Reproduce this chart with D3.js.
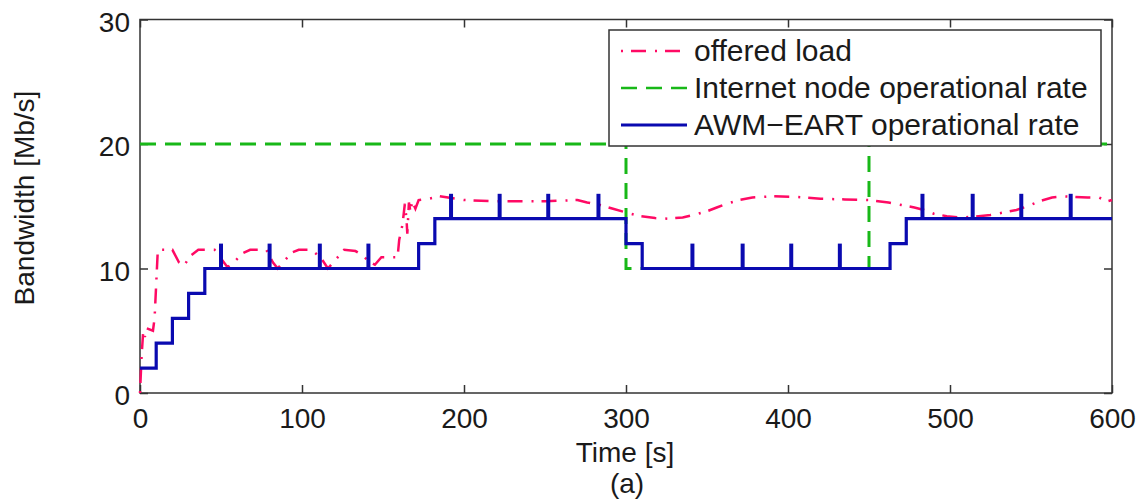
<!DOCTYPE html>
<html>
<head>
<meta charset="utf-8">
<script src="https://cdn.jsdelivr.net/npm/d3@7.9.0/dist/d3.min.js"></script>
<style>
  body { margin: 0; background: #fff; }
  svg text { font-family: "Liberation Sans", Arial, sans-serif; fill: #1a1a1a; }
</style>
</head>
<body>
<svg id="chart" width="1137" height="504"></svg>
<script>
// offered load [time s, Mb/s]
const loadTimes = [0, 1, 2, 3, 4, 8, 9, 11, 20, 24, 27, 31, 36, 46, 50, 54, 58, 63, 68, 78, 82, 85, 89, 94, 98,
  106, 112, 116, 120, 126, 133, 137, 141, 145, 149, 159, 160, 162, 163.5, 164.5, 165, 166, 167, 168, 170, 172,
  178, 185, 200, 220, 250, 270, 276, 284, 292, 300, 309, 318, 326, 335, 343, 350, 356, 362, 370, 378, 390,
  405, 420, 435, 450, 462, 470, 478, 484, 490, 498, 506, 515, 525, 533, 541, 548, 555, 563, 570, 585, 592, 597, 600];
const loadValues = [0, 3, 5, 4.5, 5.2, 5, 6, 11.5, 11.5, 10.5, 10.2, 11, 11.5, 11.5, 10.8, 10.1, 10.5, 11.2, 11.5, 11.5, 10.5, 10, 10.6, 11.3, 11.5,
  11.5, 10.8, 10, 10.6, 11.5, 11.4, 11.1, 10.6, 10.3, 10.9, 10.9, 12.3, 13.5, 15.2, 14, 12.8, 15.3, 14.5, 15.4, 14.8, 15.5,
  15.6, 15.8, 15.5, 15.4, 15.4, 15.5, 15.3, 15.1, 14.8, 14.5, 14.2, 14.05, 14.0, 14.1, 14.35, 14.6, 14.9, 15.2, 15.5, 15.7, 15.8,
  15.75, 15.6, 15.55, 15.5, 15.3, 15.1, 14.9, 14.7, 14.4, 14.2, 14.1, 14.15, 14.3, 14.5, 14.7, 15.0, 15.4, 15.7, 15.8, 15.7, 15.7, 15.4, 15.5];

// internet node operational rate (step after)
const inetTimes = [0, 300, 450, 600];
const inetRates = [20, 10, 20, 20];

// AWM-EART operational rate (step after)
const awmTimes = [0, 10, 20, 30, 40, 172, 182, 300, 310, 463, 473, 600];
const awmRates = [2, 4, 6, 8, 10, 12, 14, 12, 10, 12, 14, 14];

// short probing spikes on the AWM-EART rate
const spikeTimes = [50, 80, 111, 141, 192, 222, 252, 283, 341, 372, 402, 432, 483, 514, 544, 574.5];
const spikeBase = [10, 10, 10, 10, 14, 14, 14, 14, 10, 10, 10, 10, 14, 14, 14, 14];
const spikeTop = [12, 12, 12, 12, 16, 16, 16, 16, 12, 12, 12, 12, 16, 16, 16, 16];

const xTicks = [0, 100, 200, 300, 400, 500, 600];
const yTicks = [0, 10, 20, 30];
const legendLabels = ["offered load", "Internet node operational rate", "AWM\u2212EART operational rate"];

const red = "#ff0a64", green = "#18b818", blue = "#0a0ab0", axisColor = "#333";
const redDash = "2,8,15,9", greenDash = "16,9";

const svg = d3.select("#chart");
const x = d3.scaleLinear().domain([0, 600]).range([140, 1112]);
const y = d3.scaleLinear().domain([0, 30]).range([393, 19.5]);

// box + ticks on all four sides
const tickLen = 8;
svg.append("rect")
  .attr("x", x(0)).attr("y", y(30))
  .attr("width", x(600) - x(0)).attr("height", y(0) - y(30))
  .attr("fill", "none").attr("stroke", axisColor).attr("stroke-width", 1.5);

function styleAxis(g) {
  g.select(".domain").remove();
  g.selectAll("line").attr("stroke", axisColor).attr("stroke-width", 1.5);
  g.selectAll("text").attr("font-size", 28).attr("fill", "#1a1a1a")
    .attr("font-family", "Liberation Sans, Arial, sans-serif");
}

svg.append("g").attr("transform", `translate(0,${y(0)})`)
  .call(d3.axisBottom(x).tickValues(xTicks).tickSizeInner(-tickLen).tickSizeOuter(0).tickPadding(15))
  .call(styleAxis);
svg.append("g").attr("transform", `translate(0,${y(30)})`)
  .call(d3.axisTop(x).tickValues(xTicks).tickSizeInner(-tickLen).tickSizeOuter(0).tickFormat(""))
  .call(styleAxis);
svg.append("g").attr("transform", `translate(${x(0)},0)`)
  .call(d3.axisLeft(y).tickValues(yTicks).tickSizeInner(-tickLen).tickSizeOuter(0).tickPadding(10))
  .call(styleAxis)
  .selectAll("text").attr("dy", "0.42em");
svg.append("g").attr("transform", `translate(${x(600)},0)`)
  .call(d3.axisRight(y).tickValues(yTicks).tickSizeInner(-tickLen).tickSizeOuter(0).tickFormat(""))
  .call(styleAxis);

// axis labels
svg.append("text").attr("x", 625).attr("y", 462).attr("text-anchor", "middle").attr("font-size", 28).text("Time [s]");
svg.append("text").attr("x", 627).attr("y", 493).attr("text-anchor", "middle").attr("font-size", 28).text("(a)");
svg.append("text").attr("transform", "translate(34,198) rotate(-90)").attr("text-anchor", "middle")
  .attr("font-size", 28).text("Bandwidth [Mb/s]");

// series
const loadData = loadTimes.map((t, i) => [t, loadValues[i]]);
const inetData = inetTimes.map((t, i) => [t, inetRates[i]]);
const awmData = awmTimes.map((t, i) => [t, awmRates[i]]);

const plot = svg.append("g");
plot.append("path").datum(loadData)
  .attr("d", d3.line().x(d => x(d[0])).y(d => y(d[1])))
  .attr("fill", "none").attr("stroke", red).attr("stroke-width", 2.5)
  .attr("stroke-dasharray", redDash);

plot.append("path").datum(inetData)
  .attr("d", d3.line().curve(d3.curveStepAfter).x(d => x(d[0])).y(d => y(d[1])))
  .attr("fill", "none").attr("stroke", green).attr("stroke-width", 3)
  .attr("stroke-dasharray", greenDash);

plot.append("path").datum(awmData)
  .attr("d", d3.line().curve(d3.curveStepAfter).x(d => x(d[0])).y(d => y(d[1])))
  .attr("fill", "none").attr("stroke", blue).attr("stroke-width", 3.2);

plot.selectAll("line.spike").data(spikeTimes).join("line")
  .attr("class", "spike")
  .attr("x1", d => x(d)).attr("x2", d => x(d))
  .attr("y1", (d, i) => y(spikeBase[i])).attr("y2", (d, i) => y(spikeTop[i]))
  .attr("stroke", blue).attr("stroke-width", 4);

// legend
const lg = svg.append("g");
lg.append("rect").attr("x", 609).attr("y", 30).attr("width", 492).attr("height", 116)
  .attr("fill", "#fff").attr("stroke", axisColor).attr("stroke-width", 1.5);
const rowY = [51, 88, 125];
const legStroke = [red, green, blue];
const legDash = [redDash, greenDash, null];
legendLabels.forEach((lab, i) => {
  lg.append("line").attr("x1", 621).attr("x2", 687).attr("y1", rowY[i]).attr("y2", rowY[i])
    .attr("stroke", legStroke[i]).attr("stroke-width", i === 2 ? 3.2 : 2.5)
    .attr("stroke-dasharray", legDash[i]);
  lg.append("text").attr("x", 694).attr("y", rowY[i] + 10)
    .attr("font-size", 30).text(lab);
});
</script>
</body>
</html>
